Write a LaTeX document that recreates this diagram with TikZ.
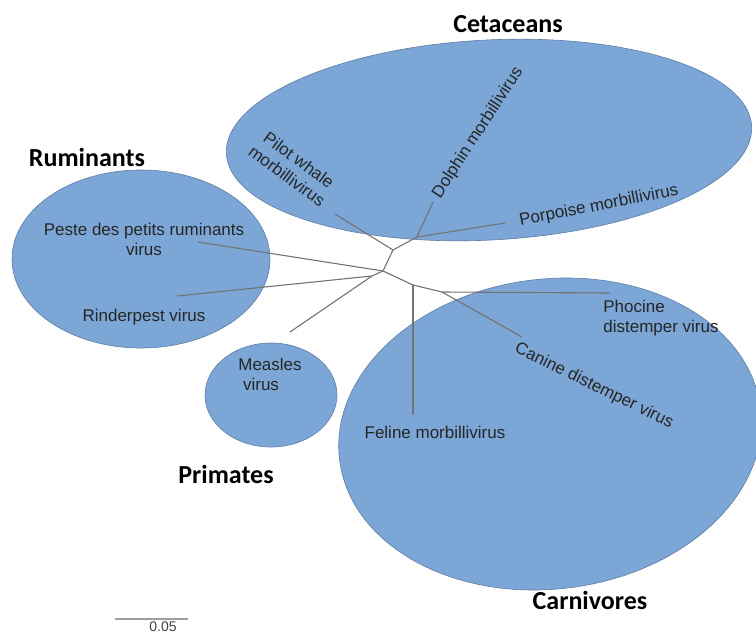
\documentclass[tikz,border=0pt]{standalone}
\usepackage{fontspec}
\setmainfont{Liberation Sans}
\newfontfamily\headfont{Carlito}
\usetikzlibrary{positioning}
\definecolor{groupblue}{RGB}{123,166,213}
\definecolor{groupedge}{RGB}{95,125,165}
\definecolor{branchgray}{RGB}{115,115,115}
\tikzset{
    group/.style = {fill=groupblue,draw=groupedge,line width=0.6pt},
    branch/.style = {draw=branchgray,line width=1.1pt},
    leaf/.style = {font=\fontsize{17}{20}\selectfont,inner sep=0pt,align=center,text=black!85},
    clade/.style = {font=\headfont\bfseries\fontsize{26}{30}\selectfont,inner sep=0pt}
}
\begin{document}
\begin{tikzpicture}[x=1pt,y=-1pt]
        \useasboundingbox (0,0) rectangle (756,635);
        % Host groups
        \draw[group,rotate around={3:(489,140)}] (489,140) ellipse[x radius=263,y radius=100];
        \draw[group] (141,259) ellipse[x radius=129,y radius=89];
        \draw[group] (271,395) ellipse[x radius=66,y radius=52];
        \draw[group,rotate around={7:(550,434)}] (550,434) ellipse[x radius=212,y radius=155];
        % Inner nodes of the tree
        \path (383,271) coordinate (root)
            (393,250) coordinate (cet)
            (417,237) coordinate (dp)
            (372,276) coordinate (mr)
            (413,285) coordinate (car)
            (442,292) coordinate (pc)
        ;
        % Branch tips
        \path (335,214) coordinate (tpilot)
            (433,202) coordinate (tdolphin)
            (505,223) coordinate (tporpoise)
            (198,242) coordinate (tpeste)
            (177,296) coordinate (trinder)
            (290,332) coordinate (tmeasles)
            (413,415) coordinate (tfeline)
            (610,293) coordinate (tphocine)
            (522,337) coordinate (tcanine)
        ;
        % Branches
        \foreach \src/\dest in {root/cet,cet/tpilot,cet/dp,dp/tdolphin,dp/tporpoise,
                root/tpeste,root/mr,mr/trinder,mr/tmeasles,
                root/car,car/tfeline,car/pc,pc/tphocine,pc/tcanine}
            \draw[branch] (\src) -- (\dest);
        % Virus labels
        \node[leaf,rotate=-36] (pilot) at (293,168) {Pilot whale\\morbillivirus};
        \node[leaf,rotate=57] (dolphin) at (478,133) {Dolphin morbillivirus};
        \node[leaf,rotate=11] (porpoise) at (599,206) {Porpoise morbillivirus};
        \node[leaf] (peste) at (144,239) {Peste des petits ruminants\\virus};
        \node[leaf] (rinder) at (144,317) {Rinderpest virus};
        \node[leaf,align=left] (measles) at (270,374) {Measles\\\ virus};
        \node[leaf,align=left] (phocine) at (661,318) {Phocine\\distemper virus};
        \node[leaf,rotate=-26] (canine) at (594,386) {Canine distemper virus};
        \node[leaf] (feline) at (435,432) {Feline morbillivirus};
        % Host labels
        \node[clade] (cetaceans) at (508,24) {Cetaceans};
        \node[clade] (ruminants) at (87,157) {Ruminants};
        \node[clade] (primates) at (226,474) {Primates};
        \node[clade] (carnivores) at (590,600) {Carnivores};
        % Scale bar
        \path (115,619) coordinate (sbl) (188,619) coordinate (sbr);
        \draw[branchgray!70,line width=1.2pt] (sbl) -- (sbr);
        \node[font=\fontsize{14}{16}\selectfont,text=black!75,inner sep=0pt,below=3pt of sbr,xshift=-25pt] (scale) {0.05};
\end{tikzpicture}
\end{document}
